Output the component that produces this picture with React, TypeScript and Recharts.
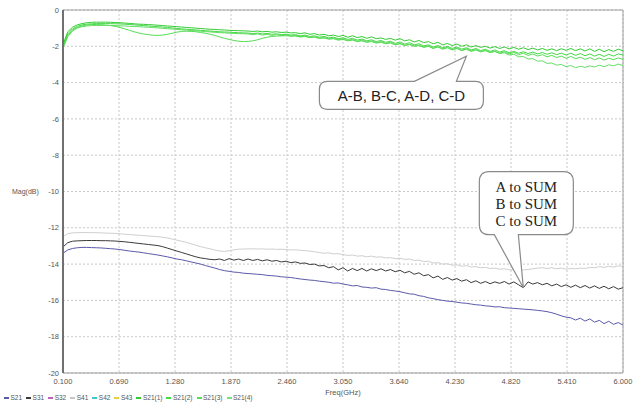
import {
  LineChart,
  Line,
  XAxis,
  YAxis,
  CartesianGrid,
  ReferenceLine,
  ReferenceDot,
} from "recharts";

// sampling grid, 0.1 .. 6.0 GHz every 0.05
const freq: number[] = Array.from({ length: 119 }, (_, i) =>
  Number((0.1 + i * 0.05).toFixed(2))
);

const xTicks = [0.1, 0.69, 1.28, 1.87, 2.46, 3.05, 3.64, 4.23, 4.82, 5.41, 6.0];
const yTicks = [0, -2, -4, -6, -8, -10, -12, -14, -16, -18, -20];

// A/B/C to SUM
const s21 = [
  -13.4, -13.22, -13.14, -13.1, -13.08, -13.08, -13.09, -13.1, -13.11, -13.13,
  -13.15, -13.17, -13.2, -13.24, -13.28, -13.31, -13.34, -13.38, -13.42, -13.46,
  -13.5, -13.55, -13.6, -13.66, -13.72, -13.76, -13.82, -13.88, -13.94, -14.0,
  -14.08, -14.15, -14.22, -14.3, -14.36, -14.4, -14.44, -14.46, -14.5, -14.52,
  -14.54, -14.56, -14.58, -14.62, -14.64, -14.66, -14.7, -14.72, -14.74, -14.78,
  -14.82, -14.85, -14.88, -14.9, -14.94, -14.97, -15.0, -15.05, -15.04, -15.1,
  -15.14, -15.2, -15.18, -15.26, -15.28, -15.32, -15.3, -15.38, -15.4, -15.45,
  -15.48, -15.52, -15.58, -15.64, -15.66, -15.74, -15.78, -15.86, -15.9, -15.96,
  -16.0, -16.04, -16.06, -16.1, -16.14, -16.16, -16.2, -16.24, -16.26, -16.3,
  -16.32, -16.36, -16.35, -16.4, -16.42, -16.44, -16.46, -16.48, -16.5, -16.52,
  -16.55, -16.58, -16.62, -16.68, -16.76, -16.85, -16.92, -16.96, -17.08, -16.98,
  -17.14, -17.02, -17.2, -17.1, -17.28, -17.15, -17.32, -17.22, -17.36,
];
const s31 = [
  -13.06, -12.82, -12.74, -12.72, -12.71, -12.7, -12.7, -12.7, -12.71, -12.71,
  -12.72, -12.73, -12.75, -12.77, -12.8, -12.83, -12.86, -12.89, -12.92, -12.95,
  -12.98, -13.04, -13.12, -13.2, -13.28, -13.36, -13.44, -13.52, -13.6, -13.66,
  -13.7, -13.74, -13.76, -13.72, -13.8, -13.7, -13.78, -13.72, -13.8, -13.72,
  -13.8, -13.74, -13.82, -13.76, -13.84, -13.8, -13.88, -13.84, -13.92, -13.88,
  -13.96, -13.94, -14.02, -14.0, -14.1, -14.08, -14.2, -14.14, -14.32, -14.2,
  -14.38, -14.24, -14.36, -14.24, -14.38, -14.26, -14.36, -14.26, -14.38, -14.3,
  -14.42, -14.34, -14.48, -14.4, -14.56, -14.48, -14.64, -14.58, -14.76, -14.66,
  -14.84, -14.74, -14.88, -14.8, -14.94, -14.86, -15.02, -14.92, -15.06, -14.96,
  -15.08, -14.98, -15.06, -14.96, -15.1, -14.98, -15.14, -15.3, -14.98, -15.1,
  -15.02, -15.14, -15.06, -15.2, -15.1, -15.24, -15.14, -15.28, -15.16, -15.3,
  -15.18, -15.32, -15.2, -15.34, -15.22, -15.36, -15.24, -15.38, -15.3,
];
const s41 = [
  -12.5, -12.32, -12.28, -12.27, -12.26, -12.26, -12.27, -12.27, -12.28, -12.29,
  -12.3, -12.31, -12.33, -12.35, -12.37, -12.39, -12.41, -12.43, -12.45, -12.47,
  -12.49, -12.52, -12.56, -12.62, -12.68, -12.74, -12.8, -12.88, -12.96, -13.04,
  -13.1, -13.16, -13.22, -13.28, -13.3, -13.26, -13.22, -13.18, -13.17, -13.16,
  -13.16, -13.17, -13.16, -13.18, -13.17, -13.19, -13.18, -13.2, -13.22, -13.21,
  -13.24, -13.26, -13.28, -13.32, -13.36, -13.4, -13.38, -13.44, -13.42, -13.48,
  -13.52, -13.5, -13.56, -13.54, -13.6, -13.56, -13.62, -13.6, -13.66, -13.64,
  -13.7, -13.68, -13.74, -13.72, -13.8, -13.78, -13.86, -13.84, -13.94, -13.92,
  -14.0, -13.98, -14.06, -14.04, -14.12, -14.08, -14.16, -14.14, -14.2, -14.18,
  -14.24, -14.22, -14.28, -14.26, -14.32, -14.3, -14.34, -14.32, -14.3, -14.26,
  -14.22, -14.2, -14.24, -14.2, -14.26, -14.22, -14.28, -14.24, -14.26, -14.22,
  -14.24, -14.18, -14.2, -14.14, -14.18, -14.12, -14.16, -14.1, -14.12,
];

// A-B, B-C, A-D, C-D
const s21a = [
  -1.9, -1.2, -0.95, -0.82, -0.75, -0.7, -0.68, -0.67, -0.67, -0.67,
  -0.68, -0.69, -0.7, -0.72, -0.74, -0.76, -0.78, -0.79, -0.8, -0.82,
  -0.84, -0.86, -0.88, -0.9, -0.92, -0.94, -0.96, -0.98, -1.0, -1.02,
  -1.04, -1.06, -1.07, -1.09, -1.1, -1.12, -1.13, -1.14, -1.15, -1.16,
  -1.18, -1.16, -1.2, -1.18, -1.22, -1.2, -1.24, -1.22, -1.26, -1.25,
  -1.3, -1.26, -1.34, -1.3, -1.38, -1.34, -1.42, -1.38, -1.46, -1.4,
  -1.5, -1.42, -1.52, -1.46, -1.56, -1.48, -1.58, -1.54, -1.62, -1.56,
  -1.66, -1.58, -1.7, -1.64, -1.76, -1.68, -1.8, -1.74, -1.86, -1.78,
  -1.92, -1.84, -1.96, -1.88, -2.0, -1.92, -2.04, -1.96, -2.06, -2.0,
  -2.1, -2.02, -2.12, -2.04, -2.14, -2.06, -2.16, -2.08, -2.18, -2.1,
  -2.2, -2.12, -2.22, -2.14, -2.24, -2.14, -2.22, -2.12, -2.24, -2.14,
  -2.26, -2.14, -2.28, -2.16, -2.3, -2.18, -2.28, -2.16, -2.24,
];
const s21b = [
  -1.98, -1.32, -1.04, -0.9, -0.82, -0.78, -0.76, -0.75, -0.75, -0.75,
  -0.75, -0.76, -0.77, -0.78, -0.8, -0.82, -0.84, -0.86, -0.88, -0.9,
  -0.92, -0.94, -0.96, -0.99, -1.02, -1.04, -1.06, -1.08, -1.1, -1.12,
  -1.14, -1.16, -1.18, -1.2, -1.21, -1.22, -1.24, -1.25, -1.26, -1.27,
  -1.3, -1.27, -1.32, -1.29, -1.34, -1.31, -1.36, -1.33, -1.38, -1.36,
  -1.42, -1.38, -1.46, -1.42, -1.5, -1.46, -1.54, -1.5, -1.58, -1.53,
  -1.62, -1.56, -1.66, -1.6, -1.7, -1.64, -1.74, -1.68, -1.78, -1.72,
  -1.84, -1.76, -1.88, -1.8, -1.92, -1.86, -1.98, -1.92, -2.04, -1.96,
  -2.08, -2.0, -2.12, -2.04, -2.16, -2.08, -2.2, -2.12, -2.24, -2.16,
  -2.28, -2.2, -2.32, -2.24, -2.36, -2.28, -2.38, -2.3, -2.4, -2.32,
  -2.42, -2.34, -2.44, -2.36, -2.46, -2.38, -2.48, -2.38, -2.5, -2.4,
  -2.52, -2.42, -2.54, -2.44, -2.56, -2.44, -2.54, -2.42, -2.48,
];
const s21c = [
  -2.05, -1.42, -1.1, -0.96, -0.88, -0.83, -0.8, -0.8, -0.81, -0.83,
  -0.86, -0.9, -0.96, -1.04, -1.12, -1.2, -1.27, -1.32, -1.36, -1.39,
  -1.4, -1.38, -1.34, -1.28, -1.22, -1.18, -1.17, -1.18, -1.2, -1.24,
  -1.28, -1.34, -1.4, -1.48, -1.56, -1.62, -1.68, -1.72, -1.74, -1.73,
  -1.7, -1.64, -1.56, -1.5, -1.46, -1.44, -1.42, -1.42, -1.43, -1.44,
  -1.48, -1.46, -1.52, -1.5, -1.56, -1.54, -1.6, -1.58, -1.66, -1.62,
  -1.7, -1.66, -1.74, -1.7, -1.78, -1.74, -1.82, -1.78, -1.86, -1.82,
  -1.92, -1.86, -1.96, -1.9, -2.0, -1.96, -2.06, -2.0, -2.12, -2.04,
  -2.16, -2.08, -2.2, -2.12, -2.24, -2.16, -2.28, -2.2, -2.3, -2.24,
  -2.34, -2.28, -2.38, -2.3, -2.42, -2.34, -2.46, -2.38, -2.5, -2.42,
  -2.54, -2.46, -2.58, -2.5, -2.62, -2.54, -2.66, -2.56, -2.68, -2.6,
  -2.72, -2.62, -2.74, -2.64, -2.76, -2.66, -2.74, -2.64, -2.72,
];
const s21d = [
  -2.1, -1.48, -1.16, -1.0, -0.92, -0.88, -0.86, -0.85, -0.85, -0.85,
  -0.85, -0.86, -0.87, -0.88, -0.9, -0.91, -0.92, -0.94, -0.95, -0.97,
  -0.99, -1.01, -1.03, -1.05, -1.07, -1.09, -1.11, -1.13, -1.15, -1.17,
  -1.19, -1.21, -1.23, -1.25, -1.26, -1.28, -1.29, -1.3, -1.31, -1.32,
  -1.36, -1.32, -1.38, -1.34, -1.4, -1.36, -1.42, -1.38, -1.44, -1.4,
  -1.48, -1.44, -1.52, -1.48, -1.56, -1.52, -1.6, -1.56, -1.64, -1.58,
  -1.68, -1.62, -1.72, -1.66, -1.76, -1.7, -1.8, -1.74, -1.84, -1.78,
  -1.9, -1.84, -1.94, -1.88, -1.98, -1.94, -2.04, -1.98, -2.1, -2.02,
  -2.14, -2.06, -2.18, -2.1, -2.22, -2.14, -2.26, -2.18, -2.3, -2.22,
  -2.34, -2.28, -2.4, -2.36, -2.48, -2.44, -2.58, -2.56, -2.7, -2.68,
  -2.82, -2.8, -2.94, -2.92, -3.04, -3.0, -3.12, -3.06, -3.18, -3.1,
  -3.16, -3.08, -3.14, -3.04, -3.12, -3.02, -3.08, -2.98, -3.06,
];

const legendNames = ["S21", "S31", "S32", "S41", "S42", "S43", "S21(1)", "S21(2)", "S21(3)", "S21(4)"];
const legendColors = ["#5a5aaa", "#3a3a3a", "#c060c0", "#c8c8c8", "#40c8d0", "#e8d040", "#33cc33", "#44dd44", "#55dd55", "#77e077"];

const data = freq.map((f, i) => ({
  f,
  s21: s21[i],
  s31: s31[i],
  s41: s41[i],
  a: s21a[i],
  b: s21b[i],
  c: s21c[i],
  d: s21d[i],
}));

const sans = "Liberation Sans, Arial, sans-serif";

const CalloutTop = (props: any) => {
  const { cx, cy } = props;
  const x0 = cx - 147, x1 = cx + 17, y0 = cy + 25, y1 = cy + 53, r = 8;
  const d = `M${x0 + r},${y0} L${cx - 52},${y0} L${cx},${cy} L${cx - 10},${y0} L${x1 - r},${y0} Q${x1},${y0} ${x1},${y0 + r} L${x1},${y1 - r} Q${x1},${y1} ${x1 - r},${y1} L${x0 + r},${y1} Q${x0},${y1} ${x0},${y1 - r} L${x0},${y0 + r} Q${x0},${y0} ${x0 + r},${y0} Z`;
  return (
    <g>
      <path d={d} fill="#fff" stroke="#8a8a8a" strokeWidth={1.2} />
      <text x={(x0 + x1) / 2} y={(y0 + y1) / 2} textAnchor="middle" dominantBaseline="central"
        fontFamily={sans} fontSize={15} fill="#222">
        A-B, B-C, A-D, C-D
      </text>
    </g>
  );
};

const CalloutSum = (props: any) => {
  const { cx, cy } = props;
  const x0 = cx - 44, x1 = cx + 50, y0 = cy - 116, y1 = cy - 53, r = 10;
  const d = `M${x0 + r},${y0} L${x1 - r},${y0} Q${x1},${y0} ${x1},${y0 + r} L${x1},${y1 - r} Q${x1},${y1} ${x1 - r},${y1} L${cx - 5},${y1} L${cx},${cy} L${cx - 29},${y1} L${x0 + r},${y1} Q${x0},${y1} ${x0},${y1 - r} L${x0},${y0 + r} Q${x0},${y0} ${x0 + r},${y0} Z`;
  const mid = (x0 + x1) / 2;
  return (
    <g>
      <path d={d} fill="#fff" stroke="#8a8a8a" strokeWidth={1.2} />
      <g fontFamily="Liberation Serif, Times New Roman, serif" fontSize={15} fill="#222" textAnchor="middle">
        <text x={mid} y={y0 + 15} dominantBaseline="central">A to SUM</text>
        <text x={mid} y={y0 + 32} dominantBaseline="central">B to SUM</text>
        <text x={mid} y={y0 + 49} dominantBaseline="central">C to SUM</text>
      </g>
    </g>
  );
};

export default function App() {
  const tick = { fontSize: 7.5, fill: "#555", fontFamily: sans };
  return (
    <div style={{ position: "absolute", left: 0, top: 0, width: 640, height: 404, background: "#fff" }}>
      <LineChart width={640} height={404} data={data} margin={{ top: 10, right: 17, left: 0, bottom: 0 }}>
        <CartesianGrid stroke="#c8c8c8" strokeDasharray="2 2" />
        <XAxis
          dataKey="f"
          type="number"
          domain={[0.1, 6.0]}
          ticks={xTicks}
          tickFormatter={(v: number) => v.toFixed(3)}
          tick={tick}
          tickSize={0}
          tickMargin={6}
          height={31}
          axisLine={{ stroke: "#999" }}
          interval={0}
          label={{ value: "Freq(GHz)", position: "insideBottom", offset: 9, fontSize: 7.5, fill: "#555", fontFamily: sans }}
        />
        <YAxis
          type="number"
          domain={[-20, 0]}
          ticks={yTicks}
          tick={tick}
          tickSize={0}
          tickMargin={4}
          width={63}
          axisLine={{ stroke: "#707070", strokeWidth: 2 }}
          interval={0}
          label={{ value: "Mag(dB)", position: "insideLeft", offset: 12, fontSize: 7, fill: "#555", fontFamily: sans }}
        />
        <ReferenceLine y={0} stroke="#a0a0a0" />
        <ReferenceLine x={6.0} stroke="#a0a0a0" />
        <Line dataKey="s41" stroke="#cfcfcf" dot={false} strokeWidth={1} isAnimationActive={false} />
        <Line dataKey="s31" stroke="#3a3a3a" dot={false} strokeWidth={1} isAnimationActive={false} />
        <Line dataKey="s21" stroke="#5a5aaa" dot={false} strokeWidth={1} isAnimationActive={false} />
        <Line dataKey="d" stroke="#66dd66" dot={false} strokeWidth={1} isAnimationActive={false} />
        <Line dataKey="c" stroke="#55dd55" dot={false} strokeWidth={1} isAnimationActive={false} />
        <Line dataKey="b" stroke="#44d844" dot={false} strokeWidth={1} isAnimationActive={false} />
        <Line dataKey="a" stroke="#33cc33" dot={false} strokeWidth={1} isAnimationActive={false} />
        <ReferenceDot x={4.35} y={-2.55} r={0} shape={(p: any) => <CalloutTop {...p} />} />
        <ReferenceDot x={4.95} y={-15.3} r={0} shape={(p: any) => <CalloutSum {...p} />} />
      </LineChart>
      <div
        style={{
          position: "absolute",
          left: 4,
          top: 394,
          display: "flex",
          gap: 4,
          fontFamily: sans,
          fontSize: 6.5,
          color: "#555",
          lineHeight: "8px",
          whiteSpace: "nowrap",
        }}
      >
        {legendNames.map((n, i) => (
          <span key={n} style={{ display: "flex", alignItems: "center", gap: 1.5 }}>
            <span style={{ display: "inline-block", width: 5, height: 2, background: legendColors[i] }} />
            {n}
          </span>
        ))}
      </div>
    </div>
  );
}
